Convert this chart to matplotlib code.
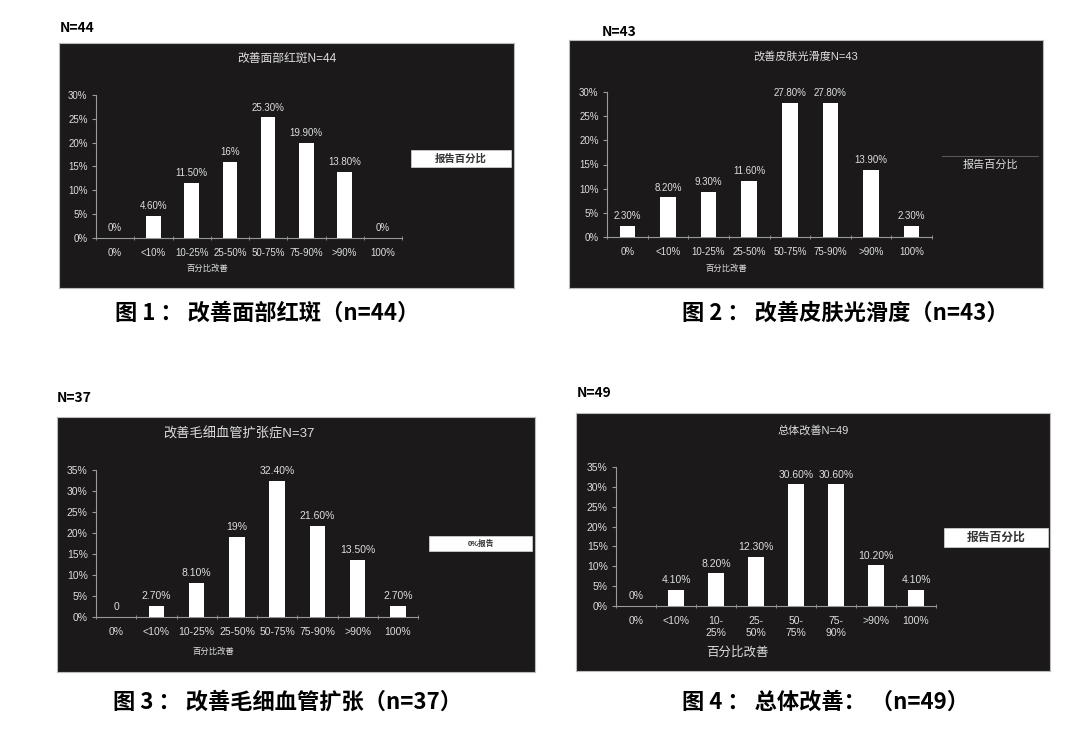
import matplotlib
matplotlib.use("Agg")
import matplotlib.pyplot as plt
from matplotlib.patches import Rectangle

plt.rcParams['font.family'] = ['Liberation Sans', 'Noto Sans CJK SC', 'DejaVu Sans']
CJK = ['Noto Sans CJK SC', 'DejaVu Sans']

W, H = 1080, 742

# data
cats = ['0%', '<10%', '10-25%', '25-50%', '50-75%', '75-90%', '>90%', '100%']
cats4 = ['0%', '<10%', '10-\n25%', '25-\n50%', '50-\n75%', '75-\n90%', '>90%', '100%']

vals1 = [0, 4.6, 11.5, 16, 25.3, 19.9, 13.8, 0]
labs1 = ['0%', '4.60%', '11.50%', '16%', '25.30%', '19.90%', '13.80%', '0%']
vals2 = [2.3, 8.2, 9.3, 11.6, 27.8, 27.8, 13.9, 2.3]
labs2 = ['2.30%', '8.20%', '9.30%', '11.60%', '27.80%', '27.80%', '13.90%', '2.30%']
vals3 = [0, 2.7, 8.1, 19, 32.4, 21.6, 13.5, 2.7]
labs3 = ['0', '2.70%', '8.10%', '19%', '32.40%', '21.60%', '13.50%', '2.70%']
vals4 = [0, 4.1, 8.2, 12.3, 30.6, 30.6, 10.2, 4.1]
labs4 = ['0%', '4.10%', '8.20%', '12.30%', '30.60%', '30.60%', '10.20%', '4.10%']

titles = ['改善面部红斑N=44', '改善皮肤光滑度N=43', '改善毛细血管扩张症N=37', '总体改善N=49']
heads = ['N=44', 'N=43', 'N=37', 'N=49']
captions = ['图 1 ： 改善面部红斑（n=44）', '图 2 ： 改善皮肤光滑度（n=43）',
            '图 3 ： 改善毛细血管扩张（n=37）', '图 4 ： 总体改善： （n=49）']
legend_txt = ['报告百分比', '报告百分比', '0%报告', '报告百分比']

BG = '#1b1919'
FG = '#dedede'
AX = '#9a9a9a'

fig = plt.figure(figsize=(W / 100, H / 100), dpi=100)
fig.patch.set_facecolor('white')


def fx(x):
    return x / W


def fy(y):
    return 1 - y / H


def box(x0, y0, x1, y1):
    return [fx(x0), fy(y1), (x1 - x0) / W, (y1 - y0) / H]


def panel(pbox, abox, vals, labs, xlabs, ymax, title, tpos, tsize,
          xlpos, xlsize, head, hpos, cap, cpos, leg, lsize, fs, xfs):
    # black background
    bg = fig.add_axes(box(*pbox), zorder=0)
    bg.set_facecolor(BG)
    bg.set_xticks([])
    bg.set_yticks([])
    for s in bg.spines.values():
        s.set_color('#bbbbbb')
        s.set_linewidth(0.8)

    ax = fig.add_axes(box(*abox), zorder=2)
    ax.patch.set_alpha(0)
    x = range(len(vals))
    ax.bar(x, vals, width=0.38, color='white', zorder=3)
    for i, v in enumerate(vals):
        ax.annotate(labs[i], (i, v), xytext=(0, 3.5), textcoords='offset points',
                    ha='center', va='bottom', color=FG, fontsize=fs)
    ax.set_xlim(-0.5, len(vals) - 0.5)
    ax.set_ylim(0, ymax)
    ax.set_yticks(range(0, ymax + 1, 5))
    ax.set_yticklabels([f'{t}%' for t in range(0, ymax + 1, 5)])
    ax.set_xticks(list(x))
    ax.set_xticklabels(xlabs, linespacing=1.25)
    ax.set_xticks([i + 0.5 for i in range(-1, len(vals))], minor=True)
    ax.tick_params(axis='x', which='major', length=0, pad=7, colors=FG, labelsize=xfs)
    ax.tick_params(axis='x', which='minor', length=3, direction='inout', color=AX)
    ax.tick_params(axis='y', length=3, color=AX, colors=FG, labelsize=fs, pad=3)
    for s in ['top', 'right']:
        ax.spines[s].set_visible(False)
    for s in ['left', 'bottom']:
        ax.spines[s].set_color(AX)
        ax.spines[s].set_linewidth(0.8)

    fig.text(fx(tpos[0]), fy(tpos[1]), title, ha='center', va='center',
             color=FG, fontsize=tsize, zorder=5)
    fig.text(fx(xlpos[0]), fy(xlpos[1]), '百分比改善', ha='center', va='center',
             color=FG, fontsize=xlsize, zorder=5, family=CJK)
    fig.text(fx(hpos[0]), fy(hpos[1]), head, ha='left', va='center',
             color='black', fontsize=10, fontweight='bold', family=CJK)
    fig.text(fx(cpos[0]), fy(cpos[1]), cap, ha='left', va='center',
             color='black', fontsize=16, fontweight='heavy', family=CJK)
    # legend box
    if leg[4]:
        fig.patches.append(Rectangle((fx(leg[0]), fy(leg[3])),
                                     (leg[2] - leg[0]) / W, (leg[3] - leg[1]) / H,
                                     transform=fig.transFigure, facecolor='white',
                                     edgecolor='#cccccc', lw=0.6, zorder=5))
        fig.text(fx((leg[0] + leg[2]) / 2), fy((leg[1] + leg[3]) / 2), leg[5],
                 ha='center', va='center', color='#333333', fontsize=lsize,
                 fontweight='bold', zorder=6)
    else:
        fig.add_artist(plt.Line2D([fx(leg[0]), fx(leg[2])], [fy(leg[1]), fy(leg[1])],
                                  color='#555555', lw=0.8, zorder=5))
        fig.text(fx((leg[0] + leg[2]) / 2), fy(leg[3]), leg[5],
                 ha='center', va='center', color=FG, fontsize=lsize, zorder=6)
    return ax


panel((59, 43, 514, 288), (96, 95, 402, 238), vals1, labs1, cats, 30,
      titles[0], (287, 59), 8.5, (207, 268), 6, heads[0], (60, 28),
      captions[0], (115, 313), (411, 150, 511, 167, True, legend_txt[0]), 7.5, 7, 7)

panel((569, 40, 1043, 288), (607, 92, 932, 237), vals2, labs2, cats, 30,
      titles[1], (806, 56), 8, (726, 268), 6, heads[1], (602, 32),
      captions[1], (682, 313), (942, 156, 1038, 165, False, legend_txt[1]), 8, 7, 7)

panel((57, 417, 535, 672), (96, 470, 418, 617), vals3, labs3, cats, 35,
      titles[2], (239, 434), 9.5, (213, 651), 6, heads[2], (57, 398),
      captions[2], (113, 702), (429, 536, 532, 551, True, legend_txt[2]), 5.5, 7.5, 7.5)

panel((576, 413, 1050, 671), (616, 467, 936, 606), vals4, labs4, cats4, 35,
      titles[3], (813, 430), 8, (737, 652), 9, heads[3], (577, 393),
      captions[3], (682, 702), (944, 528, 1048, 547, True, legend_txt[3]), 8.5, 7.5, 7.5)

fig.savefig('out.png', dpi=100, facecolor='white')
